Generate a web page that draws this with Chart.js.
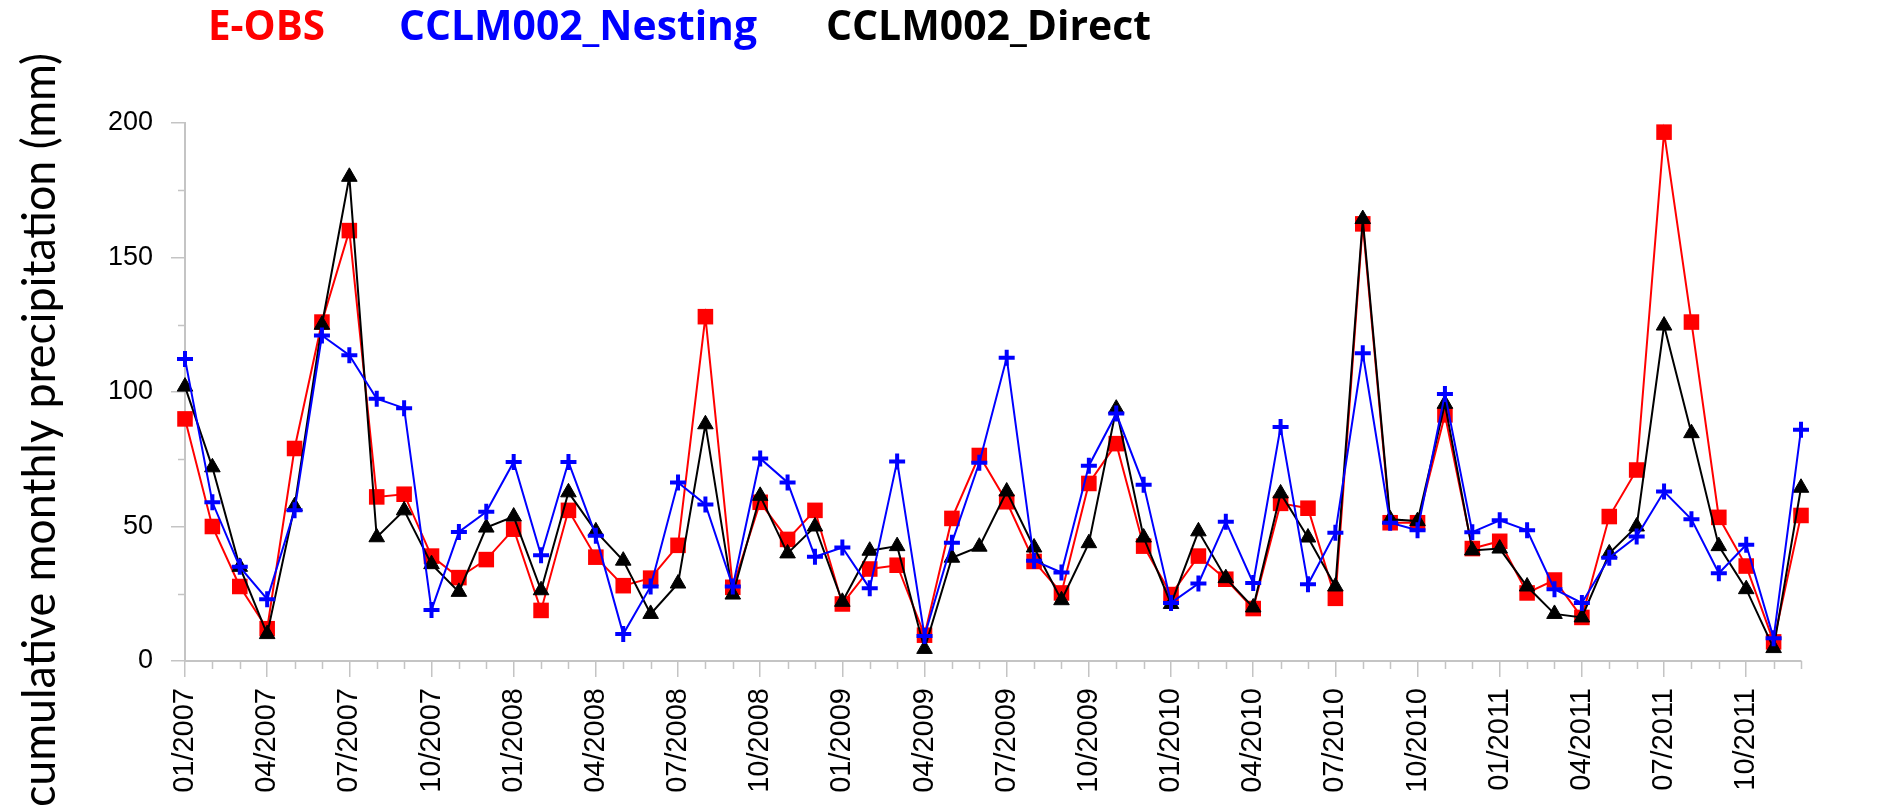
<!DOCTYPE html>
<html>
<head>
<meta charset="utf-8">
<script src="https://cdn.jsdelivr.net/npm/chart.js@4.4.1/dist/chart.umd.min.js"></script>
<style>
  html, body { margin: 0; padding: 0; background: #fff; }
  #wrap { width: 1878px; height: 805px; position: relative; }
</style>
</head>
<body>
<div id="wrap"><canvas id="canvas"></canvas></div>
<script>
// monthly categories 01/2007 .. 12/2011
const years = [2007, 2008, 2009, 2010, 2011];
const months = ['01', '02', '03', '04', '05', '06', '07', '08', '09', '10', '11', '12'];
const monthLabels = years.flatMap(y => months.map(m => m + '/' + y));

const yTicks = [0, 50, 100, 150, 200];
const yMinorTicks = [25, 75, 125, 175];

const eobs = [90, 50, 27.7, 12, 79, 126, 160, 61, 62, 39, 31, 37.7,
  49, 18.8, 56, 38.6, 28, 30.8, 43, 128, 27.4, 59, 45.2, 56,
  21.2, 34.2, 35.6, 9.6, 53, 76.4, 59.2, 37, 25.3, 66, 80.8, 42.7,
  24.7, 39, 30.4, 19.5, 58.6, 56.8, 23.3, 162.5, 51.4, 51.4, 91.5, 41.8,
  44.5, 25.3, 30.1, 16.2, 53.7, 71, 196.6, 126, 53.4, 35.3, 7.1, 54.1];

const nesting = [112.3, 59, 35, 23, 56, 121, 113.7, 97.5, 94, 19, 48, 55.5,
  74, 39.3, 74, 46.6, 10, 27.7, 66.4, 58.2, 27.7, 75.3, 66.4, 38.8,
  42.2, 27, 74.2, 9.3, 44, 73.7, 112.7, 37.3, 32.9, 72.6, 92, 65.5,
  21.6, 28.8, 51.8, 29, 87, 28.5, 47.7, 114.4, 51.4, 48.6, 99.3, 47.9,
  52.3, 48.6, 26.7, 21.6, 38.4, 46.3, 63, 52.7, 32.6, 43.2, 8.5, 86];

const direct = [102, 72, 35, 10, 57.5, 125, 180, 46, 56, 36, 25.7, 49.6,
  53.7, 26.3, 62.7, 48.2, 37.3, 17.5, 28.8, 88, 24.7, 61.4, 40, 50,
  22, 41, 42.7, 4.5, 38.4, 42.5, 63, 42.2, 22.6, 43.8, 93.8, 45.9,
  21.2, 48.2, 30.8, 19.9, 62.3, 45.9, 27.7, 164.3, 52.7, 52, 95.6, 41.1,
  41.8, 27.7, 17.5, 16.2, 40, 50, 124.7, 84.7, 42.7, 26.7, 4.8, 64.4];

const seriesNames = ['E-OBS', 'CCLM002_Nesting', 'CCLM002_Direct'];
const seriesColors = ['#ff0000', '#0000ff', '#000000'];
const yTitle = 'cumulative monthly precipitation (mm)';

const axisColor = '#c4c4c4';
const clear = 'rgba(0,0,0,0)';

Chart.defaults.font.family = '"Liberation Sans", Arial, sans-serif';
Chart.defaults.color = '#000';

// legend text, y title and the short minor ticks
const extras = {
  id: 'extras',
  afterDraw(chart) {
    const ctx = chart.ctx;
    const xs = chart.scales.x, ys = chart.scales.y;
    const area = chart.chartArea;
    ctx.save();

    ctx.strokeStyle = axisColor;
    ctx.lineWidth = 1.5;
    ctx.beginPath();
    monthLabels.forEach((m, i) => {
      if (i % 3 === 0) return;
      const px = Math.round(xs.getPixelForValue(i)) + 0.5;
      ctx.moveTo(px, area.bottom);
      ctx.lineTo(px, area.bottom + 8);
    });
    yMinorTicks.forEach(v => {
      const py = Math.round(ys.getPixelForValue(v)) + 0.5;
      ctx.moveTo(area.left - 7, py);
      ctx.lineTo(area.left, py);
    });
    ctx.stroke();

    // legend (text only)
    const legX = [208, 399, 826];
    const legW = [117, 358, 325];
    ctx.font = 'bold 42px "Open Sans", sans-serif';
    ctx.textBaseline = 'alphabetic';
    ctx.textAlign = 'left';
    seriesNames.forEach((name, i) => {
      ctx.fillStyle = seriesColors[i];
      ctx.fillText(name, legX[i], 40, legW[i]);
    });

    // y axis title
    ctx.translate(55, 430);
    ctx.rotate(-Math.PI / 2);
    ctx.textAlign = 'center';
    ctx.fillStyle = '#000';
    ctx.font = '46px Lato, "Open Sans", sans-serif';
    ctx.fillText(yTitle, 0, 0, 754);
    ctx.restore();
  }
};

const ctx = document.getElementById('canvas');
const myChart = new Chart(ctx, {
  type: 'line',
  data: {
    labels: monthLabels,
    datasets: [{
      label: seriesNames[0],
      data: eobs,
      order: 2,
      borderColor: seriesColors[0],
      backgroundColor: seriesColors[0],
      borderWidth: 2,
      pointStyle: 'rect',
      pointRadius: 11,
      pointBorderWidth: 0,
      clip: false
    }, {
      label: seriesNames[1],
      data: nesting,
      order: 0,
      borderColor: seriesColors[1],
      backgroundColor: seriesColors[1],
      borderWidth: 2,
      pointStyle: 'cross',
      pointRadius: 8,
      pointBorderWidth: 4,
      clip: false
    }, {
      label: seriesNames[2],
      data: direct,
      order: 1,
      borderColor: seriesColors[2],
      backgroundColor: seriesColors[2],
      borderWidth: 2,
      pointStyle: 'triangle',
      pointRadius: 9,
      pointBorderWidth: 1,
      clip: false
    }]
  },
  options: {
    responsive: true,
    maintainAspectRatio: false,
    animation: false,
    devicePixelRatio: 1,
    layout: { padding: { top: 123, right: 77, left: 0, bottom: 0 } },
    plugins: {
      legend: { display: false },
      tooltip: { enabled: false }
    },
    scales: {
      x: {
        offset: false,
        border: { color: axisColor, width: 2 },
        grid: {
          drawOnChartArea: false,
          tickLength: 16,
          lineWidth: 1.5,
          tickColor: c => (c.index % 3 === 0 ? axisColor : clear)
        },
        ticks: {
          autoSkip: false,
          minRotation: 90,
          maxRotation: 90,
          padding: 11,
          font: { size: 29 },
          callback: function (val, idx) {
            return idx % 3 === 0 ? this.getLabelForValue(val) : '';
          }
        },
        afterFit: s => { s.height = 144; }
      },
      y: {
        min: 0,
        max: 200,
        border: { color: axisColor, width: 2 },
        grid: {
          drawOnChartArea: false,
          tickLength: 14,
          lineWidth: 1.5,
          tickColor: c => (c.tick && yTicks.includes(c.tick.value) ? axisColor : clear)
        },
        ticks: {
          stepSize: 25,
          padding: 18,
          font: { size: 27 },
          callback: v => (yTicks.includes(v) ? v : '')
        },
        afterFit: s => { s.width = 185; }
      }
    }
  },
  plugins: [extras]
});
</script>
</body>
</html>
